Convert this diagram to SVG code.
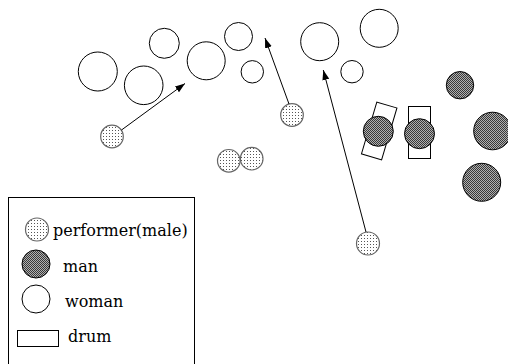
<svg xmlns="http://www.w3.org/2000/svg" width="508" height="364" viewBox="0 0 508 364">
<defs>
<pattern id="dots" width="3" height="3" patternUnits="userSpaceOnUse">
<rect width="3" height="3" fill="#fff"/>
<rect x="1" y="1" width="1" height="1" fill="#555"/>
</pattern>
<pattern id="hatch" width="2" height="2" patternUnits="userSpaceOnUse">
<rect width="2" height="2" fill="#b0b0b0"/>
<rect x="0" y="0" width="1" height="1" fill="#383838"/>
<rect x="1" y="1" width="1" height="1" fill="#383838"/>
</pattern>
<marker id="ah" markerWidth="11" markerHeight="8" refX="10" refY="3.5" orient="auto" markerUnits="userSpaceOnUse">
<path d="M0,0 L10,3.5 L0,7 z" fill="#000"/>
</marker>
</defs>
<style>
.w{fill:#fff;stroke:#000;stroke-width:1}
.m{fill:url(#hatch);stroke:#000;stroke-width:1}
.p{fill:url(#dots);stroke:#666;stroke-width:1.2}
.d{fill:#fff;stroke:#000;stroke-width:1}
.c{stroke:#000;stroke-width:1;fill:none;marker-end:url(#ah)}
.t{font-family:"DejaVu Serif","Liberation Serif",serif;font-size:16px;fill:#000}
</style>
<rect width="508" height="364" fill="#fff"/>
<g id="women">
<circle id="w1" class="w" cx="97.8" cy="71.5" r="19.5"/>
<circle id="w2" class="w" cx="143.7" cy="85.3" r="19.3"/>
<circle id="w3" class="w" cx="164.3" cy="43.3" r="15"/>
<circle id="w4" class="w" cx="206.2" cy="60.8" r="19"/>
<circle id="w5" class="w" cx="238.5" cy="36.5" r="14"/>
<circle id="w6" class="w" cx="252.3" cy="71.8" r="11.2"/>
<circle id="w7" class="w" cx="319.7" cy="41.7" r="19"/>
<circle id="w8" class="w" cx="379.2" cy="28.3" r="19"/>
<circle id="w9" class="w" cx="352" cy="71.7" r="11.2"/>
</g>
<g id="drums">
<rect id="drum1" class="d" x="368.7" y="103.9" width="21" height="54" transform="rotate(16.5 379.2 130.9)"/>
<rect id="drum2" class="d" x="408.5" y="106.5" width="22" height="52"/>
</g>
<g id="men">
<circle id="m1" class="m" cx="460" cy="85.2" r="13.7"/>
<circle id="m2" class="m" cx="492.5" cy="131" r="18.8"/>
<circle id="m3" class="m" cx="481.7" cy="182.3" r="19"/>
<circle id="m4" class="m" cx="378.3" cy="131.3" r="15"/>
<circle id="m5" class="m" cx="419.5" cy="133.7" r="15"/>
</g>
<g id="performers">
<circle id="p1" class="p" cx="112" cy="136.5" r="11.3"/>
<circle id="p2" class="p" cx="228.8" cy="160.8" r="11.3"/>
<circle id="p3" class="p" cx="251.7" cy="158.7" r="11.3"/>
<circle id="p4" class="p" cx="292" cy="115" r="11.3"/>
<circle id="p5" class="p" cx="368" cy="243.5" r="11.5"/>
</g>
<g id="connectors">
<line class="c" x1="121.5" y1="130" x2="185" y2="83.5"/>
<line class="c" x1="289" y1="104" x2="265" y2="38"/>
<line class="c" x1="366" y1="232" x2="323.3" y2="70"/>
</g>
<g id="legend">
<rect x="8.5" y="197.5" width="186" height="180" fill="none" stroke="#000" stroke-width="1"/>
<circle class="p" cx="37" cy="229.5" r="11.5"/>
<text class="t" x="53" y="236">performer(male)</text>
<circle class="m" cx="36" cy="264" r="14"/>
<text class="t" x="63" y="272">man</text>
<circle class="w" cx="36" cy="299" r="14"/>
<text class="t" x="65" y="307">woman</text>
<rect class="d" x="17.5" y="330.5" width="41" height="16"/>
<text class="t" x="68" y="342">drum</text>
</g>
</svg>
